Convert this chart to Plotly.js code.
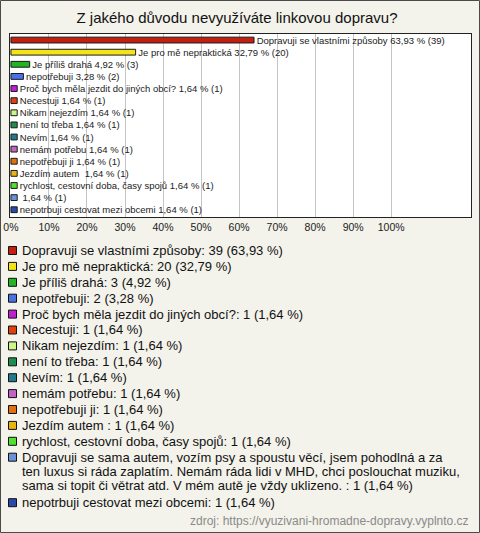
<!DOCTYPE html>
<html>
<head>
<meta charset="utf-8">
<script src="https://cdn.plot.ly/plotly-3.0.1.min.js"></script>
<style>
  html, body { margin: 0; padding: 0; background: #f3f2eb; }
  #chart { width: 480px; height: 533px; }
</style>
</head>
<body>
<div id="chart"></div>
<script>
// ---- data ----
const barNames = [
  "Dopravuji se vlastními způsoby",
  "Je pro mě nepraktická",
  "Je příliš drahá",
  "nepotřebuji",
  "Proč bych měla jezdit do jiných obcí?",
  "Necestuji",
  "Nikam nejezdím",
  "není to třeba",
  "Nevím",
  "nemám potřebu",
  "nepotřebuji ji",
  "Jezdím autem ",
  "rychlost, cestovní doba, časy spojů",
  "",
  "nepotrbuji cestovat mezi obcemi"
];
const legendNames = [
  "Dopravuji se vlastními způsoby",
  "Je pro mě nepraktická",
  "Je příliš drahá",
  "nepotřebuji",
  "Proč bych měla jezdit do jiných obcí?",
  "Necestuji",
  "Nikam nejezdím",
  "není to třeba",
  "Nevím",
  "nemám potřebu",
  "nepotřebuji ji",
  "Jezdím autem ",
  "rychlost, cestovní doba, časy spojů",
  "Dopravuji se sama autem, vozím psy a spoustu věcí, jsem pohodlná a za\nten luxus si ráda zaplatím. Nemám ráda lidi v MHD, chci poslouchat muziku,\nsama si topit či větrat atd. V mém autě je vždy uklizeno. ",
  "nepotrbuji cestovat mezi obcemi"
];
const counts = [39, 20, 3, 2, 1, 1, 1, 1, 1, 1, 1, 1, 1, 1, 1];
const percents = [63.93, 32.79, 4.92, 3.28, 1.64, 1.64, 1.64, 1.64, 1.64, 1.64, 1.64, 1.64, 1.64, 1.64, 1.64];
const colors = [
  "#c3200f", "#f2e418", "#22b522", "#4a72e6", "#c21fd0",
  "#e0400f", "#cdf58a", "#1f8d4e", "#217a8e", "#c462c4",
  "#e2700f", "#e8b412", "#52e031", "#6a92d8", "#2a4aa8"
];
const xTicks = [0, 10, 20, 30, 40, 50, 60, 70, 80, 90, 100];

// ---- geometry helpers (pixel -> paper) ----
const W = 480, H = 533;
const M = { l: 10, r: 9, t: 34, b: 316 };
const PW = W - M.l - M.r, PH = H - M.t - M.b;
const px2x = px => (px - M.l) / PW;
const py2y = py => (H - M.b - py) / PH;

const fmt = v => v.toFixed(2).replace('.', ',');
const idx = barNames.map((_, i) => i);

const barText = barNames.map((n, i) => `\u00a0${n} ${fmt(percents[i])} % (${counts[i]})`);

const trace = {
  type: 'bar',
  orientation: 'h',
  x: percents,
  y: idx,
  width: 0.48,
  marker: { color: colors, line: { color: '#1a1a1a', width: 1 } },
  text: barText,
  textposition: 'outside',
  constraintext: 'none',
  cliponaxis: false,
  textfont: { family: 'Liberation Sans, Arial, sans-serif', size: 9.5, color: '#222' },
  hoverinfo: 'skip',
  showlegend: false
};

// ---- legend drawn as annotations + shapes ----
const annotations = [];
const shapes = [];
let ly = 250.5;
const itemGap = 15.9, lineGap = 14.3;
legendNames.forEach((name, i) => {
  const lines = (name + `: ${counts[i]} (${fmt(percents[i])} %)`).split('\n');
  shapes.push({
    type: 'rect', xref: 'paper', yref: 'paper',
    x0: px2x(8.5), x1: px2x(16.5), y0: py2y(ly - 4), y1: py2y(ly + 4),
    fillcolor: colors[i], line: { color: '#111', width: 1 }
  });
  lines.forEach((ln, k) => {
    annotations.push({
      xref: 'paper', yref: 'paper', x: px2x(20), y: py2y(ly + k * lineGap),
      xanchor: 'left', yanchor: 'middle', showarrow: false,
      text: ln, font: { family: 'Liberation Sans, Arial, sans-serif', size: 13, color: '#111' }
    });
  });
  ly += itemGap + (lines.length - 1) * lineGap + (lines.length > 1 ? 1 : 0);
});

annotations.push({
  xref: 'paper', yref: 'paper', x: px2x(471), y: py2y(520.5),
  xanchor: 'right', yanchor: 'middle', showarrow: false,
  text: 'zdroj: https://vyuzivani-hromadne-dopravy.vyplnto.cz',
  font: { family: 'Liberation Sans, Arial, sans-serif', size: 12, color: '#8a8a8a' }
});

// outer frame
shapes.push({
  type: 'rect', xref: 'paper', yref: 'paper', layer: 'above',
  x0: px2x(0.5), x1: px2x(479.5), y0: py2y(532.5), y1: py2y(0.5),
  line: { color: '#4a4a4a', width: 1 }
});

const layout = {
  width: W, height: H,
  margin: M,
  paper_bgcolor: '#f3f2eb',
  plot_bgcolor: '#ffffff',
  showlegend: false,
  title: {
    text: 'Z jakého důvodu nevyužíváte linkovou dopravu?',
    font: { family: 'Liberation Sans, Arial, sans-serif', size: 15, color: '#111' },
    x: 237 / W, xanchor: 'center', xref: 'container',
    y: 1 - 18 / H, yanchor: 'middle', yref: 'container'
  },
  xaxis: {
    range: [-0.25, 121],
    tickvals: xTicks,
    ticktext: xTicks.map(v => v + '%'),
    showgrid: true, gridcolor: '#c4c4c4', gridwidth: 1,
    zeroline: false,
    showline: true, mirror: true, linecolor: '#222', linewidth: 1,
    ticks: '',
    tickfont: { family: 'Liberation Sans, Arial, sans-serif', size: 10.5, color: '#222' },
    fixedrange: true
  },
  yaxis: {
    range: [14.6, -0.5],
    showticklabels: false, showgrid: false, zeroline: false,
    showline: true, mirror: true, linecolor: '#222', linewidth: 1,
    ticks: '', fixedrange: true
  },
  annotations: annotations,
  shapes: shapes
};

Plotly.newPlot('chart', [trace], layout, { displayModeBar: false, staticPlot: true });
</script>
</body>
</html>
